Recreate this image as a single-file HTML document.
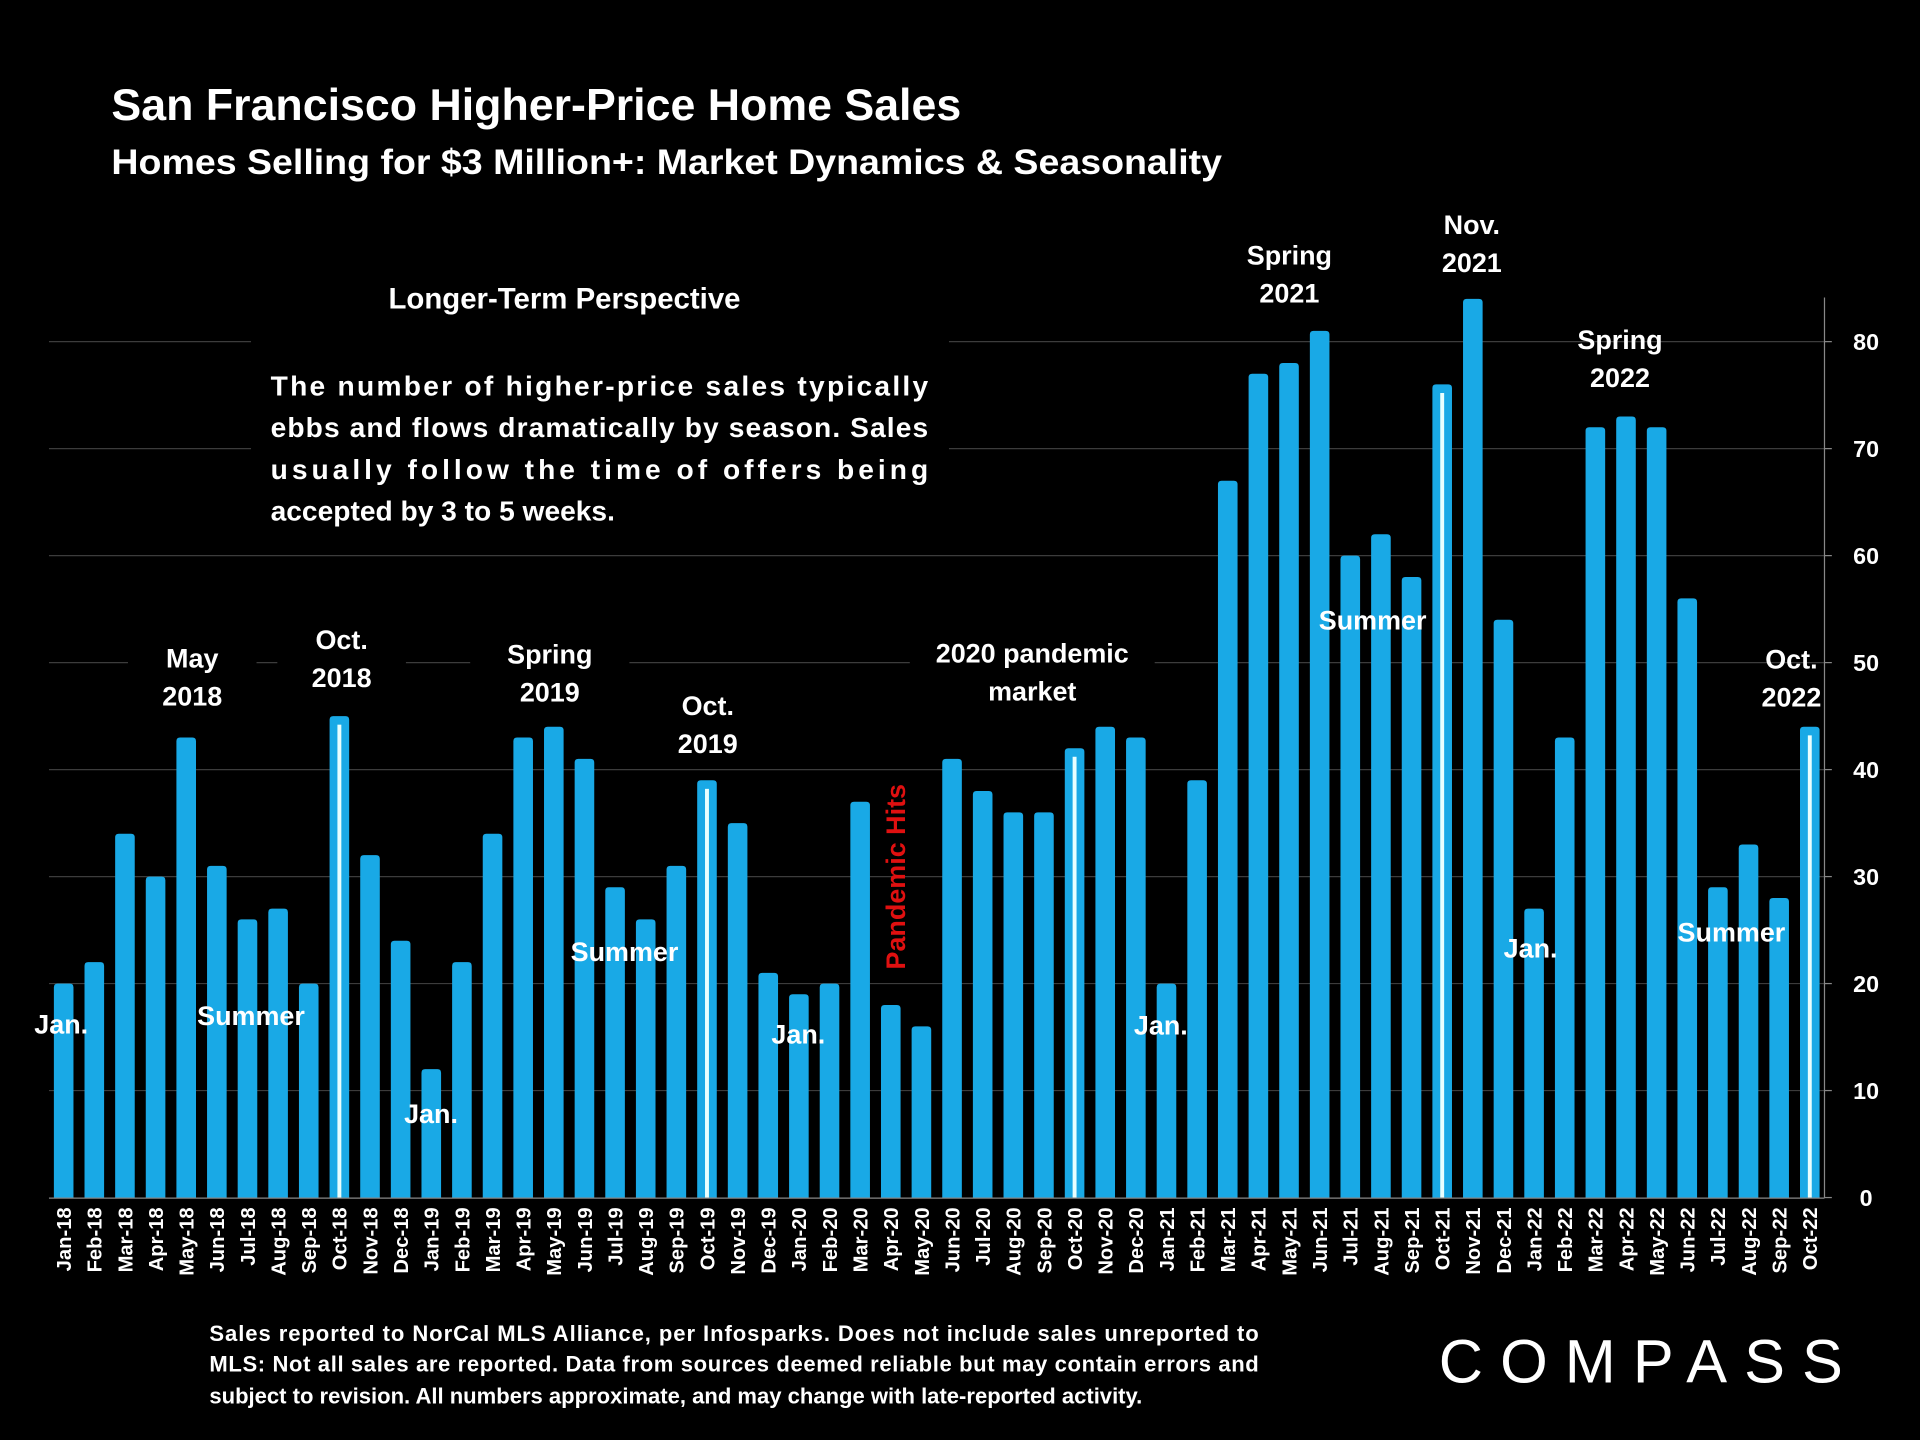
<!DOCTYPE html>
<html><head><meta charset="utf-8"><style>
html,body{margin:0;padding:0;background:#000;}
svg{display:block;font-family:"Liberation Sans",sans-serif;font-weight:bold;}
</style></head><body>
<svg id="chart" width="1920" height="1440" viewBox="0 0 1568 1176" xmlns="http://www.w3.org/2000/svg">
<rect width="1568" height="1176" fill="#000"/>
<g id="grid"></g>
<g id="bars"></g>
<g id="xlabels"></g>
<g id="ylabels"></g>
<line x1="1490" y1="243" x2="1490" y2="978" stroke="#888" stroke-width="1"/>
<line x1="40" y1="978.5" x2="1490" y2="978.5" stroke="#888" stroke-width="1"/>

<text x="91" y="98" fill="#fff" font-size="36" textLength="694" lengthAdjust="spacingAndGlyphs">San Francisco Higher-Price Home Sales</text>
<text x="91" y="142" fill="#fff" font-size="29" textLength="907" lengthAdjust="spacingAndGlyphs">Homes Selling for  $3 Million+: Market Dynamics &amp; Seasonality</text>

<g>
<rect x="205" y="222" width="570" height="218" fill="#000"/>
<text x="461" y="252" text-anchor="middle" fill="#fff" font-size="24">Longer-Term Perspective</text>
<text x="221" y="323" fill="#fff" font-size="23" textLength="537" lengthAdjust="spacing">The number of higher-price sales typically</text>
<text x="221" y="357" fill="#fff" font-size="23" textLength="537" lengthAdjust="spacing">ebbs and flows dramatically by season. Sales</text>
<text x="221" y="391" fill="#fff" font-size="23" textLength="537" lengthAdjust="spacing">usually follow the time of offers being</text>
<text x="221" y="425" fill="#fff" font-size="23">accepted by 3 to 5 weeks.</text>
</g>

<g id="annotations" fill="#fff" font-size="22" text-anchor="middle"></g>

<text transform="translate(739,716) rotate(-90)" text-anchor="middle" fill="#e01010" font-size="22">Pandemic Hits</text>

<g fill="#fff" font-size="18">
<text x="171" y="1095" textLength="857" lengthAdjust="spacing">Sales reported to NorCal MLS Alliance, per Infosparks. Does not include sales unreported to</text>
<text x="171" y="1120" textLength="857" lengthAdjust="spacing">MLS: Not all sales are reported. Data from sources deemed reliable but may contain errors and</text>
<text x="171" y="1146">subject to revision.  All numbers approximate, and may change with late-reported activity.</text>
</g>
<text x="1175" y="1129" fill="#fff" font-size="50" font-weight="normal" textLength="330" lengthAdjust="spacing">COMPASS</text>
</svg>
<script>
const categories = ["Jan-18","Feb-18","Mar-18","Apr-18","May-18","Jun-18","Jul-18","Aug-18","Sep-18","Oct-18","Nov-18","Dec-18","Jan-19","Feb-19","Mar-19","Apr-19","May-19","Jun-19","Jul-19","Aug-19","Sep-19","Oct-19","Nov-19","Dec-19","Jan-20","Feb-20","Mar-20","Apr-20","May-20","Jun-20","Jul-20","Aug-20","Sep-20","Oct-20","Nov-20","Dec-20","Jan-21","Feb-21","Mar-21","Apr-21","May-21","Jun-21","Jul-21","Aug-21","Sep-21","Oct-21","Nov-21","Dec-21","Jan-22","Feb-22","Mar-22","Apr-22","May-22","Jun-22","Jul-22","Aug-22","Sep-22","Oct-22"];
const sales = [20,22,34,30,43,31,26,27,20,45,32,24,12,22,34,43,44,41,29,26,31,39,35,21,19,20,37,18,16,41,38,36,36,42,44,43,20,39,67,77,78,81,60,62,58,76,84,54,27,43,72,73,72,56,29,33,28,44];
const yTicks = [0,10,20,30,40,50,60,70,80];
const NS="http://www.w3.org/2000/svg";
const x0=52, step=(1478-52)/57, bw=16;
function xPos(i){return x0+i*step;}
function yPos(v){return 978-v*(978-279)/80;}
function mk(tag,attrs,parent){const e=document.createElementNS(NS,tag);for(const k in attrs)e.setAttribute(k,attrs[k]);parent.appendChild(e);return e;}
const grid=document.getElementById('grid'),bars=document.getElementById('bars'),xl=document.getElementById('xlabels'),yl=document.getElementById('ylabels');
yTicks.forEach(t=>{
  if(t>0){const g=mk('line',{x1:40,x2:1490,y1:yPos(t),y2:yPos(t),stroke:'#3c3c3c','stroke-width':1},grid);
  
  }
  const tk=mk('line',{x1:1490,x2:1496,y1:yPos(t),y2:yPos(t),stroke:'#888'},yl);
  
  
  const tx=mk('text',{x:1524,y:yPos(t)+7,fill:'#fff','font-size':19,'text-anchor':'middle'},yl);
  tx.textContent=t;
  
  
});
categories.forEach((c,i)=>{
  const cx=xPos(i), top=yPos(sales[i]);
  const b=mk('path',{d:`M${cx-bw/2},978 V${top+3} Q${cx-bw/2},${top} ${cx-bw/2+3},${top} H${cx+bw/2-3} Q${cx+bw/2},${top} ${cx+bw/2},${top+3} V978 Z`,fill:'#19a9e6'},bars);
  
  
  if(c.startsWith('Oct')){
    const w=mk('rect',{x:cx-1.6,y:top+7,width:3.2,height:978-top-7,fill:'#e8ffff'},bars);
    
    
  }
  const t=mk('text',{transform:`translate(${cx+6},986) rotate(-90)`,'text-anchor':'end',fill:'#fff','font-size':16.5},xl);
  t.textContent=c;
  
  
});
const ann=document.getElementById('annotations');
const boxed=[["May","2018",157,545,1],["Oct.","2018",279,530,1],["Spring","2019",449,542,1],["Oct.","2019",578,584,1],["2020 pandemic","market",843,541,1],["Spring","2021",1053,216,0],["Nov.","2021",1202,191,0],["Spring","2022",1323,285,0],["Oct.","2022",1463,546,0]];
boxed.forEach(a=>{
  const g=mk('g',{},ann);
  
  
  const w=a[0].length>8?200:(a[0].length>4?130:105);
  if(a[4]) mk('rect',{x:a[2]-w/2,y:a[3]-22,width:w,height:62,fill:'#000'},g);
  const t1=mk('text',{x:a[2],y:a[3]},g);t1.textContent=a[0];
  const t2=mk('text',{x:a[2],y:a[3]+31},g);t2.textContent=a[1];
});
const inside=[["Jan.",50,844],["Summer",205,837],["Jan.",352,917],["Summer",510,785],["Jan.",652,852],["Jan.",948,845],["Summer",1121,514],["Jan.",1250,782],["Summer",1414,769]];
inside.forEach(a=>{
  const t=mk('text',{x:a[1],y:a[2]},ann);t.textContent=a[0];
  
  
});
</script>
</body></html>
